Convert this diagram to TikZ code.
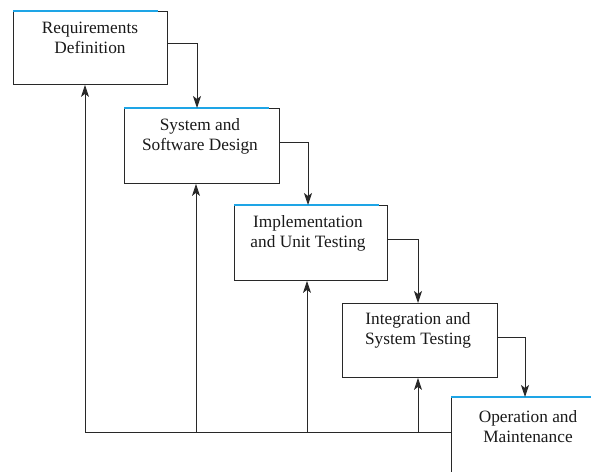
\documentclass[tikz,border=0pt]{standalone}
\usepackage{fontspec}
\setmainfont{Liberation Serif}
\usetikzlibrary{arrows.meta}
\definecolor{lineclr}{RGB}{40,40,40}
\definecolor{topblue}{RGB}{30,165,230}
\tikzset{
  stagebox/.style={draw=lineclr, line width=0.9pt, rectangle, anchor=north west, inner sep=0pt},
  stagetext/.style={align=center, font=\fontsize{17.3}{20}\selectfont, text=black!90, inner sep=0pt},
  arr/.style={draw=lineclr, line width=0.9pt, -{Stealth[length=12pt,width=8pt,inset=3pt]}},
  plain/.style={draw=lineclr, line width=0.9pt},
  topline/.style={draw=topblue, line width=1.8pt}
}
\begin{document}
\begin{tikzpicture}[x={(1pt,0)}, y={(0,-1pt)}]
\useasboundingbox (0,0) rectangle (591,471);
% boxes
\node[stagebox, minimum width=154pt, minimum height=73pt] (b1) at (13,11) {};
\node[stagebox, minimum width=155pt, minimum height=75pt] (b2) at (124,108) {};
\node[stagebox, minimum width=153pt, minimum height=75pt] (b3) at (234,205) {};
\node[stagebox, minimum width=155pt, minimum height=74pt] (b4) at (342,303) {};
\node[stagebox, minimum width=160pt, minimum height=90pt] (b5) at (451,397) {};
% blue top edges
\draw[topline] ([yshift=0.3pt]b1.north west) -- ++(145,0);
\draw[topline] ([yshift=0.3pt]b2.north west) -- ++(145,0);
\draw[topline] ([yshift=0.3pt]b3.north west) -- ++(145,0);
\draw[topline] ([yshift=0.3pt]b5.north west) -- ++(150,0);
% texts
\node[stagetext] (t1) at (90,38) {Requirements\\Definition};
\node[stagetext] (t2) at (200,136) {System and\\Software Design};
\node[stagetext] (t3) at (308,233) {Implementation\\and Unit Testing};
\node[stagetext] (t4) at (418,330) {Integration and\\System Testing};
\node[stagetext] (t5) at (528,427) {Operation and\\Maintenance};
% forward arrows
\draw[arr] ([yshift=-32pt]b1.north east) -| ([xshift=73pt]b2.north west);
\draw[arr] ([yshift=-34pt]b2.north east) -| ([xshift=74pt]b3.north west);
\draw[arr] ([yshift=-34pt]b3.north east) -| ([xshift=76pt]b4.north west);
\draw[arr] ([yshift=-34pt]b4.north east) -| ([xshift=74pt]b5.north west);
% feedback
\coordinate (f1) at (85,432);
\coordinate (f2) at (196,432);
\coordinate (f3) at (307,432);
\coordinate (f4) at (418,432);
\draw[plain] (b5.west |- f1) -- (f1);
\draw[arr] (f1) -- (f1 |- b1.south);
\draw[arr] (f2) -- (f2 |- b2.south);
\draw[arr] (f3) -- (f3 |- b3.south);
\draw[arr] (f4) -- (f4 |- b4.south);
\end{tikzpicture}
\end{document}
